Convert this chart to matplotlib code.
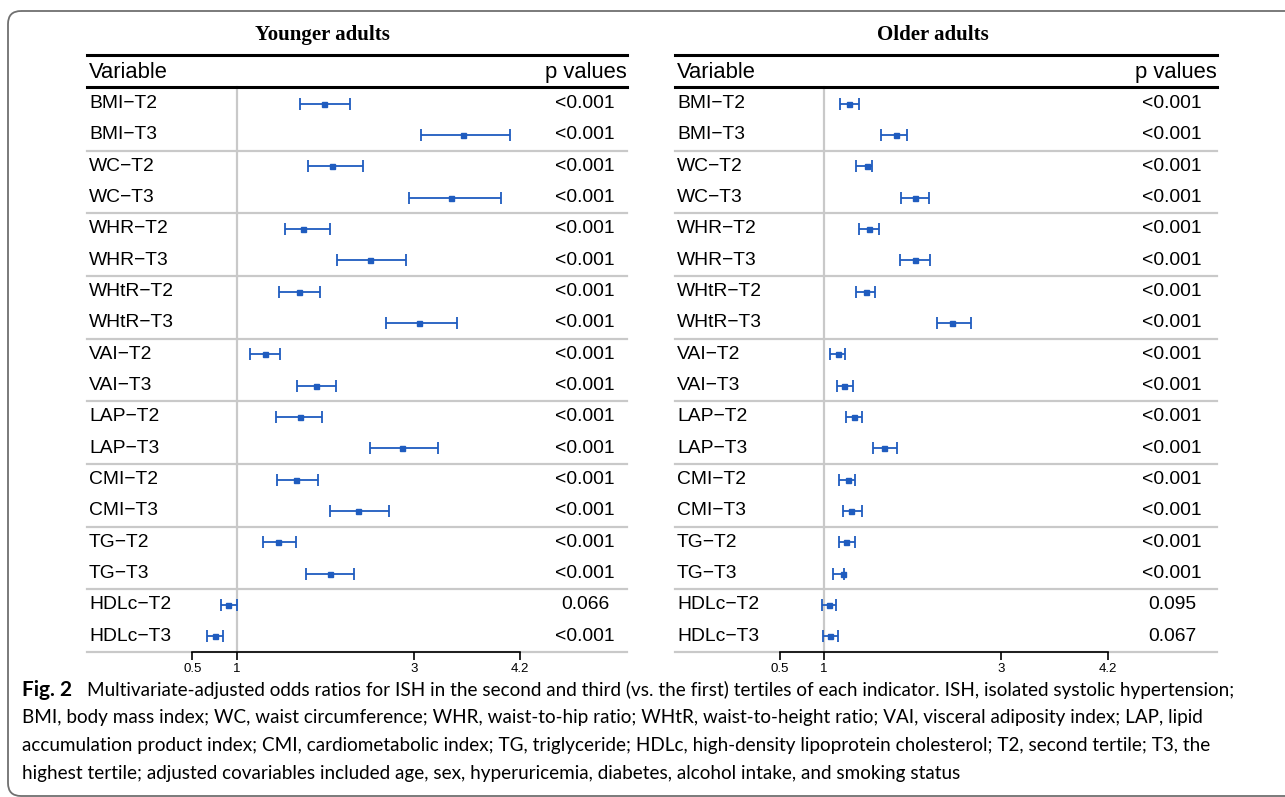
import matplotlib
matplotlib.use("Agg")
import matplotlib.pyplot as plt
from matplotlib.patches import FancyBboxPatch
import numpy as np

# ---------------- data ----------------
variables = ["BMI−T2", "BMI−T3", "WC−T2", "WC−T3", "WHR−T2", "WHR−T3",
             "WHtR−T2", "WHtR−T3", "VAI−T2", "VAI−T3", "LAP−T2", "LAP−T3",
             "CMI−T2", "CMI−T3", "TG−T2", "TG−T3", "HDLc−T2", "HDLc−T3"]

young_or = [1.99, 3.55, 2.08, 3.42, 1.75, 2.51, 1.70, 3.06, 1.32, 1.89,
            1.71, 2.87, 1.67, 2.37, 1.47, 2.05, 0.905, 0.75]
young_lo = [1.72, 3.08, 1.81, 2.95, 1.55, 2.13, 1.48, 2.68, 1.15, 1.68,
            1.44, 2.51, 1.46, 2.05, 1.30, 1.78, 0.82, 0.66]
young_hi = [2.28, 4.08, 2.42, 3.98, 2.05, 2.91, 1.94, 3.49, 1.49, 2.12,
            1.96, 3.27, 1.92, 2.72, 1.67, 2.32, 1.00, 0.85]
young_p = ["<0.001"] * 16 + ["0.066", "<0.001"]

old_or = [1.28, 1.81, 1.48, 2.03, 1.51, 2.03, 1.47, 2.45, 1.16, 1.23,
          1.34, 1.68, 1.27, 1.31, 1.25, 1.21, 1.06, 1.07]
old_lo = [1.175, 1.64, 1.36, 1.87, 1.39, 1.86, 1.36, 2.28, 1.07, 1.145,
          1.25, 1.55, 1.17, 1.22, 1.17, 1.10, 0.98, 0.99]
old_hi = [1.39, 1.94, 1.54, 2.18, 1.62, 2.20, 1.58, 2.66, 1.24, 1.33,
          1.43, 1.82, 1.35, 1.43, 1.35, 1.23, 1.13, 1.16]
old_p = ["<0.001"] * 16 + ["0.095", "0.067"]

ticks = [0.5, 1, 3, 4.2]
tick_labels = ["0.5", "1", "3", "4.2"]

caption_lines = [
    "Multivariate-adjusted odds ratios for ISH in the second and third (vs. the first) tertiles of each indicator. ISH, isolated systolic hypertension;",
    "BMI, body mass index; WC, waist circumference; WHR, waist-to-hip ratio; WHtR, waist-to-height ratio; VAI, visceral adiposity index; LAP, lipid",
    "accumulation product index; CMI, cardiometabolic index; TG, triglyceride; HDLc, high-density lipoprotein cholesterol; T2, second tertile; T3, the",
    "highest tertile; adjusted covariables included age, sex, hyperuricemia, diabetes, alcohol intake, and smoking status",
]

# ---------------- layout ----------------
W, H = 1285, 797
BLUE = "#1f5cbf"
GREY = "#c9c9c9"
SANS = "Liberation Sans"

fig = plt.figure(figsize=(W / 100, H / 100), dpi=100)

# background axes in pixel coordinates
bg = fig.add_axes([0, 0, 1, 1], zorder=0)
bg.set_xlim(0, W)
bg.set_ylim(H, 0)
bg.axis("off")
bg.add_patch(FancyBboxPatch((8, 11), 1320, 785,
                            boxstyle="round,pad=0,rounding_size=13",
                            fill=False, ec="#707070", lw=1.3))


def panel(left_px, right_px, one_px, title, title_cx, ors, los, his, ps, p_cx):
    top_px, bot_px = 55, 652
    scale = 88.6
    ax = fig.add_axes([left_px / W, 1 - bot_px / H,
                       (right_px - left_px) / W, (bot_px - top_px) / H], zorder=2)
    ax.patch.set_alpha(0)
    x0 = 1 - (one_px - left_px) / scale
    x1 = 1 + (right_px - one_px) / scale
    ax.set_xlim(x0, x1)
    ax.set_ylim(18.5, -0.55)

    for s in ["top", "left", "right"]:
        ax.spines[s].set_visible(False)
    ax.spines["bottom"].set_bounds(0.5, 4.2)
    ax.spines["bottom"].set_linewidth(1.2)
    ax.spines["bottom"].set_zorder(5)
    ax.set_yticks([])
    ax.set_xticks(ticks)
    ax.set_xticklabels(tick_labels, fontsize=9.5, family=SANS)
    ax.tick_params(axis="x", length=6, width=1.2, pad=2)

    # table rules
    ax.plot([x0, x1], [-0.55, -0.55], color="black", lw=2.2, clip_on=False, zorder=3)
    ax.plot([x0, x1], [0.48, 0.48], color="black", lw=2.2, clip_on=False, zorder=3)
    for yy in np.arange(2.5, 17.6, 2):
        ax.plot([x0, x1], [yy, yy], color=GREY, lw=1.6, clip_on=False, zorder=1)
    ax.plot([x0, x1], [18.5, 18.5], color=GREY, lw=1.6, clip_on=False, zorder=1)
    ax.plot([1, 1], [0.48, 18.5], color=GREY, lw=1.6, zorder=1)

    rows = np.arange(1, len(variables) + 1)
    o = np.array(ors)
    ax.errorbar(o, rows, xerr=[o - np.array(los), np.array(his) - o],
                fmt="s", ms=3.6, color=BLUE, ecolor=BLUE, elinewidth=1.3,
                capsize=4, capthick=1.3, zorder=4)

    lx = x0 + 2 / scale
    pc = x0 + (p_cx - left_px) / scale
    ax.text(lx, 0, "Variable", fontsize=15.8, family=SANS, va="center", ha="left")
    ax.text(x1, 0, "p values", fontsize=15.8, family=SANS, va="center", ha="right")
    for r, v, p in zip(rows, variables, ps):
        ax.text(lx, r, v, fontsize=13.9, family=SANS, va="center", ha="left")
        ax.text(pc, r, p, fontsize=13.9, family=SANS, va="center", ha="center")

    bg.text(title_cx, 35, title, fontsize=15, family="Liberation Serif",
            fontweight="bold", ha="center", va="center")


panel(87, 627, 236.7, "Younger adults", 322, young_or, young_lo, young_hi, young_p, 585)
panel(675, 1217, 824, "Older adults", 933, old_or, old_lo, old_hi, old_p, 1172)

# caption
CAP = "Lato"
CS = 13.6
ys = [690, 718, 745, 773]
bg.text(22, ys[0], "Fig. 2", fontsize=15, family=CAP, fontweight="bold",
        ha="left", va="center")
bg.text(87, ys[0], caption_lines[0], fontsize=CS, family=CAP, ha="left", va="center")
for yy, line in zip(ys[1:], caption_lines[1:]):
    bg.text(22, yy, line, fontsize=CS, family=CAP, ha="left", va="center")

fig.savefig("out.png", dpi=100)
